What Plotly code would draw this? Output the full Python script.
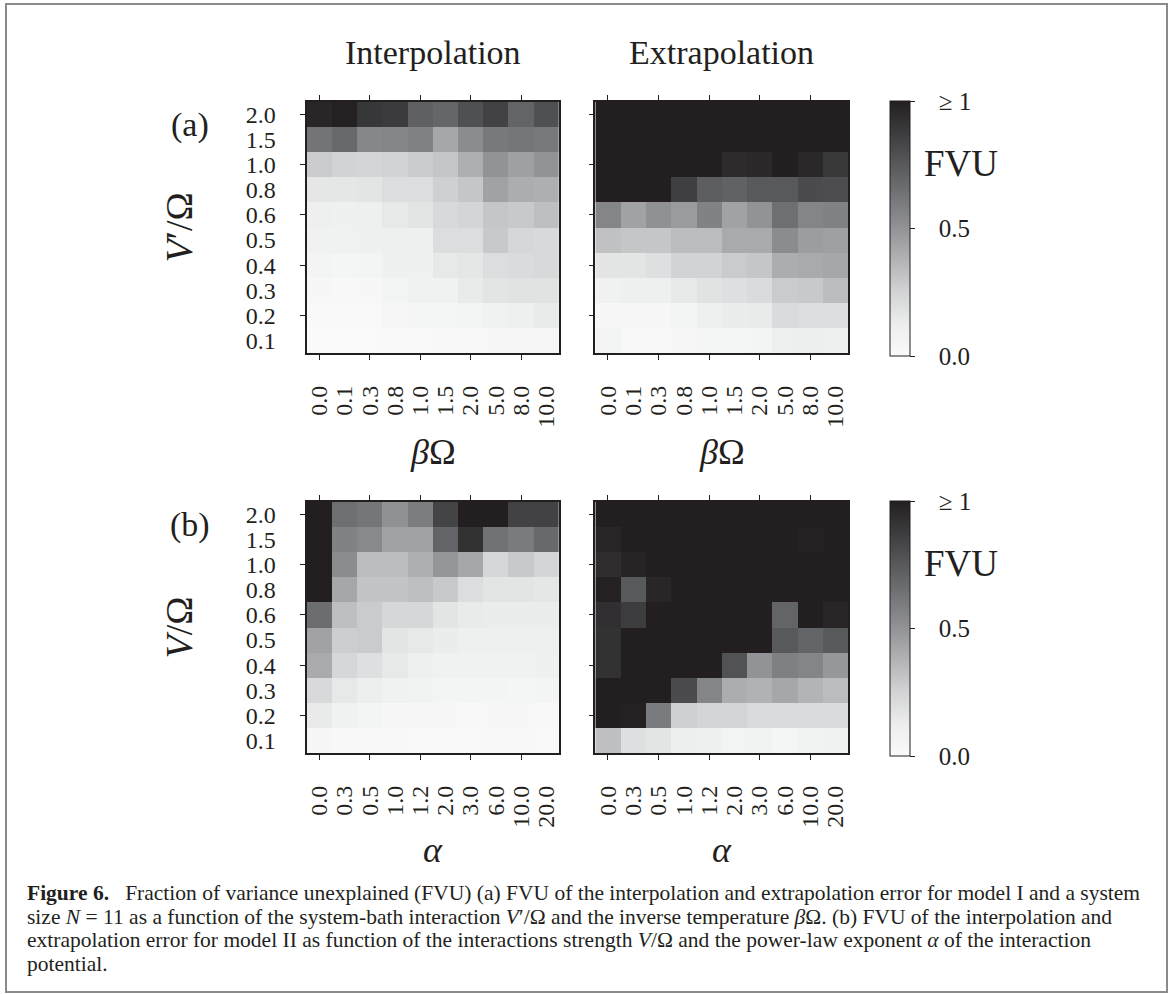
import plotly.graph_objects as go

W, H = 1174, 994

# ---------------- data ----------------
beta_labels = ["0.0", "0.1", "0.3", "0.8", "1.0", "1.5", "2.0", "5.0", "8.0", "10.0"]
alpha_labels = ["0.0", "0.3", "0.5", "1.0", "1.2", "2.0", "3.0", "6.0", "10.0", "20.0"]
v_labels = ["0.1", "0.2", "0.3", "0.4", "0.5", "0.6", "0.8", "1.0", "1.5", "2.0"]
cbar_vals = [0.0, 0.5, 1.0]
cbar_text = ["0.0", "0.5", "≥ 1"]

# rows listed from top (V = 2.0) to bottom (V = 0.1); values >= 1 saturate
fvu_a_interp = [
    [0.97, 0.99, 0.90, 0.88, 0.72, 0.69, 0.79, 0.85, 0.70, 0.79],
    [0.63, 0.68, 0.55, 0.56, 0.57, 0.42, 0.53, 0.61, 0.62, 0.61],
    [0.28, 0.25, 0.24, 0.25, 0.28, 0.30, 0.39, 0.50, 0.45, 0.50],
    [0.16, 0.16, 0.17, 0.20, 0.20, 0.26, 0.30, 0.44, 0.40, 0.39],
    [0.11, 0.10, 0.11, 0.15, 0.17, 0.22, 0.24, 0.30, 0.29, 0.33],
    [0.09, 0.09, 0.10, 0.11, 0.11, 0.20, 0.20, 0.29, 0.23, 0.22],
    [0.06, 0.05, 0.06, 0.10, 0.10, 0.15, 0.16, 0.20, 0.21, 0.22],
    [0.03, 0.02, 0.03, 0.07, 0.09, 0.09, 0.14, 0.17, 0.18, 0.18],
    [0.01, 0.01, 0.01, 0.04, 0.05, 0.05, 0.06, 0.09, 0.11, 0.14],
    [0.00, 0.00, 0.00, 0.01, 0.01, 0.02, 0.02, 0.03, 0.03, 0.04],
]
fvu_a_extrap = [
    [1.00, 1.00, 1.00, 1.00, 1.00, 1.00, 1.00, 1.00, 1.00, 1.00],
    [1.00, 1.00, 1.00, 1.00, 1.00, 1.00, 1.00, 1.00, 1.00, 1.00],
    [1.00, 1.00, 1.00, 1.00, 1.00, 0.95, 0.96, 1.00, 0.96, 0.89],
    [1.00, 1.00, 1.00, 0.86, 0.73, 0.71, 0.75, 0.75, 0.81, 0.80],
    [0.56, 0.44, 0.51, 0.47, 0.57, 0.44, 0.50, 0.65, 0.56, 0.57],
    [0.32, 0.30, 0.30, 0.34, 0.34, 0.41, 0.41, 0.53, 0.46, 0.45],
    [0.17, 0.17, 0.19, 0.25, 0.25, 0.28, 0.30, 0.40, 0.41, 0.42],
    [0.09, 0.11, 0.11, 0.15, 0.18, 0.19, 0.21, 0.28, 0.29, 0.34],
    [0.03, 0.03, 0.03, 0.06, 0.11, 0.13, 0.14, 0.21, 0.20, 0.20],
    [0.07, 0.02, 0.02, 0.03, 0.05, 0.05, 0.06, 0.11, 0.12, 0.11],
]
fvu_b_interp = [
    [1.00, 0.65, 0.62, 0.51, 0.59, 0.84, 1.00, 1.00, 0.85, 0.85],
    [1.00, 0.57, 0.54, 0.44, 0.44, 0.70, 0.92, 0.64, 0.60, 0.68],
    [1.00, 0.53, 0.34, 0.34, 0.39, 0.49, 0.42, 0.23, 0.29, 0.24],
    [1.00, 0.42, 0.31, 0.31, 0.33, 0.29, 0.20, 0.17, 0.17, 0.16],
    [0.66, 0.33, 0.28, 0.23, 0.23, 0.17, 0.14, 0.13, 0.13, 0.13],
    [0.44, 0.27, 0.28, 0.17, 0.15, 0.13, 0.11, 0.11, 0.11, 0.11],
    [0.41, 0.23, 0.19, 0.15, 0.11, 0.09, 0.09, 0.09, 0.09, 0.10],
    [0.22, 0.15, 0.12, 0.09, 0.08, 0.06, 0.06, 0.06, 0.05, 0.06],
    [0.14, 0.09, 0.06, 0.03, 0.03, 0.03, 0.02, 0.03, 0.03, 0.02],
    [0.03, 0.02, 0.02, 0.02, 0.01, 0.01, 0.01, 0.02, 0.02, 0.01],
]
fvu_b_extrap = [
    [1.00, 1.00, 1.00, 1.00, 1.00, 1.00, 1.00, 1.00, 1.00, 1.00],
    [0.97, 1.00, 1.00, 1.00, 1.00, 1.00, 1.00, 1.00, 0.99, 1.00],
    [0.94, 0.98, 1.00, 1.00, 1.00, 1.00, 1.00, 1.00, 1.00, 1.00],
    [0.99, 0.75, 0.97, 1.00, 1.00, 1.00, 1.00, 1.00, 1.00, 1.00],
    [0.93, 0.87, 1.00, 1.00, 1.00, 1.00, 1.00, 0.70, 1.00, 0.97],
    [0.92, 1.00, 1.00, 1.00, 1.00, 1.00, 1.00, 0.75, 0.70, 0.75],
    [0.92, 1.00, 1.00, 1.00, 1.00, 0.78, 0.50, 0.58, 0.56, 0.48],
    [1.00, 1.00, 1.00, 0.81, 0.56, 0.40, 0.38, 0.42, 0.37, 0.34],
    [1.00, 0.99, 0.60, 0.26, 0.24, 0.24, 0.21, 0.21, 0.21, 0.21],
    [0.33, 0.19, 0.17, 0.12, 0.11, 0.07, 0.08, 0.05, 0.08, 0.09],
]

caption_lines = [
    "<b>Figure 6.</b>\u2002 Fraction of variance unexplained (FVU) (a) FVU of the interpolation and extrapolation error for model I and a system",
    "size <i>N</i> = 11 as a function of the system-bath interaction <i>V</i>′/Ω and the inverse temperature <i>β</i>Ω. (b) FVU of the interpolation and",
    "extrapolation error for model II as function of the interactions strength <i>V</i>/Ω and the power-law exponent <i>α</i> of the interaction",
    "potential.",
]

# ---------------- style ----------------
FONT = "Liberation Serif, DejaVu Serif, serif"
INK = "#231f20"
colorscale = [
    [0.0, "rgb(250,250,250)"], [0.125, "rgb(236,237,237)"], [0.25, "rgb(210,211,212)"],
    [0.375, "rgb(178,179,181)"], [0.5, "rgb(146,147,150)"], [0.625, "rgb(116,117,120)"],
    [0.75, "rgb(88,89,91)"], [0.875, "rgb(60,60,62)"], [1.0, "rgb(35,31,32)"],
]


def px(x):
    return x / W


def py(y):
    return 1 - y / H


# pixel boxes of the four heatmaps: (x0, x1, y0, y1)
boxes = [
    (306.7, 559.0, 102.0, 353.0),
    (595.3, 848.0, 102.0, 353.0),
    (306.7, 559.0, 502.0, 753.0),
    (595.3, 848.0, 502.0, 753.0),
]
panels = [
    (fvu_a_interp, beta_labels, True, "coloraxis"),
    (fvu_a_extrap, beta_labels, False, "coloraxis"),
    (fvu_b_interp, alpha_labels, True, "coloraxis2"),
    (fvu_b_extrap, alpha_labels, False, "coloraxis2"),
]

fig = go.Figure()
layout_axes = {}
n = len(v_labels)
for k, ((z_rows, xlabels, show_y, cax), (x0, x1, y0, y1)) in enumerate(zip(panels, boxes), start=1):
    z = z_rows[::-1]  # bottom row first
    xs = list(range(len(xlabels)))
    ys = list(range(n))
    fig.add_trace(go.Heatmap(z=z, x=xs, y=ys, coloraxis=cax,
                             xaxis=f"x{k}", yaxis=f"y{k}", hoverinfo="skip"))
    # invisible trace for tick-mark overlay axes
    fig.add_trace(go.Scatter(x=[None], y=[None], mode="markers", showlegend=False,
                             xaxis=f"x{k+4}", yaxis=f"y{k+4}", hoverinfo="skip"))
    rng = [-0.5, len(xlabels) - 0.5]
    yrng = [-0.5, n - 0.5]
    layout_axes[f"xaxis{k}"] = dict(
        domain=[px(x0), px(x1)], anchor=f"y{k}", range=rng, tickmode="array",
        tickvals=xs, ticktext=xlabels, tickangle=-90, ticks="", showline=False,
        showgrid=False, zeroline=False, ticklabelstandoff=27,
        tickfont=dict(family=FONT, size=24, color=INK),
    )
    layout_axes[f"yaxis{k}"] = dict(
        domain=[py(y1), py(y0)], anchor=f"x{k}", range=yrng, tickmode="array",
        tickvals=ys, ticktext=v_labels, ticks="", showline=False, showgrid=False,
        zeroline=False, showticklabels=show_y, ticklabelstandoff=30,
        tickfont=dict(family=FONT, size=24, color=INK),
    )
    layout_axes[f"xaxis{k+4}"] = dict(
        overlaying=f"x{k}", anchor=f"y{k}", side="bottom", range=rng,
        tickmode="array", tickvals=xs[::2], ticks="outside", ticklen=5, tickwidth=1.3,
        tickcolor=INK, showticklabels=False, showline=True, linecolor=INK, linewidth=1.6,
        mirror="ticks", showgrid=False, zeroline=False,
    )
    layout_axes[f"yaxis{k+4}"] = dict(
        overlaying=f"y{k}", anchor=f"x{k}", side="left", range=yrng,
        tickmode="array", tickvals=ys[1::2], ticks="outside", ticklen=5, tickwidth=1.3,
        tickcolor=INK, showticklabels=False, showline=True, linecolor=INK, linewidth=1.6,
        mirror=True, showgrid=False, zeroline=False,
    )


def cbar(ytop, ybot):
    return dict(
        x=px(890), xanchor="left", xpad=0, ypad=0,
        y=py((ytop + ybot) / 2), yanchor="middle", len=(ybot - ytop) / H, lenmode="fraction",
        thickness=20, thicknessmode="pixels", outlinewidth=1, outlinecolor=INK,
        tickmode="array", tickvals=cbar_vals,
        ticktext=["\u00a0\u00a0\u00a0" + t for t in cbar_text],
        ticks="outside", ticklen=5, tickcolor=INK, tickwidth=1.2,
        tickfont=dict(family=FONT, size=25, color=INK),
    )


annotations = []


def ann(text, x, y, size, angle=0, xanchor="center"):
    annotations.append(dict(text=text, x=px(x), y=py(y), xref="paper", yref="paper",
                            showarrow=False, textangle=angle, xanchor=xanchor, yanchor="middle",
                            font=dict(family=FONT, size=size, color=INK)))


ann("Interpolation", 433, 53, 34)
ann("Extrapolation", 721.7, 53, 34)
ann("(a)", 190, 125, 34)
ann("(b)", 190, 525, 34)
ann("<i>V</i>′/Ω", 178, 227.5, 38, angle=-90)
ann("<i>V</i>/Ω", 178, 627.5, 38, angle=-90)
ann("<i>β</i>Ω", 433, 452, 36)
ann("<i>β</i>Ω", 721.7, 452, 36)
ann("<i>α</i>", 433, 850, 36)
ann("<i>α</i>", 721.7, 850, 36)
ann("FVU", 961, 163, 37)
ann("FVU", 961, 563, 37)
for line, yy in zip(caption_lines, [893, 916.5, 940, 963.5]):
    ann(line, 25, yy, 21.5, xanchor="left")

fig.update_layout(
    width=W, height=H, margin=dict(l=0, r=0, t=0, b=0),
    paper_bgcolor="white", plot_bgcolor="white", showlegend=False,
    coloraxis=dict(colorscale=colorscale, cmin=0, cmax=1, colorbar=cbar(101, 356)),
    coloraxis2=dict(colorscale=colorscale, cmin=0, cmax=1, colorbar=cbar(501, 756)),
    annotations=annotations,
    shapes=[dict(type="rect", xref="paper", yref="paper", x0=px(6), x1=px(1167),
                 y0=py(992), y1=py(4), line=dict(color="#8a8a8a", width=2))],
    **layout_axes,
)

fig.write_html("out.html", config={"displayModeBar": False},
               post_script="document.body.style.margin='0';")
